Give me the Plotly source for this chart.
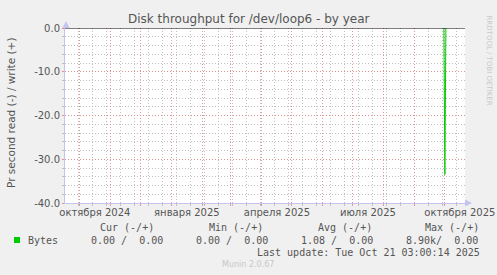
import plotly.graph_objects as go

# ---- data ----
spike_dates = ["2025-09-30 00:00", "2025-10-01 00:00", "2025-10-02 00:00"]
spike_values = [0.0, -33.5, 0.0]

y_tick_vals = [0, -10, -20, -30, -40]
y_tick_text = ["0.0", "-10.0", "-20.0", "-30.0", "-40.0"]

x_label_dates = ["2024-10-16", "2025-01-16", "2025-04-16", "2025-07-16", "2025-10-16"]
x_label_text = ["октября 2024", "января 2025", "апреля 2025", "июля 2025", "октября 2025"]

x_start = "2024-09-16 03:00"
x_end = "2025-10-21 03:00"

legend_headers = ["Cur (-/+)", "Min (-/+)", "Avg (-/+)", "Max (-/+)"]
legend_values = ["0.00 /  0.00", "0.00 /  0.00", "1.08 /  0.00", "8.90k/  0.00"]
series_name = "Bytes"
last_update = "Last update: Tue Oct 21 03:00:14 2025"

# ---- layout geometry ----
W, H = 497, 275
L, R, T, B = 65, 465, 28, 203

def px(x):
    return (x - L) / (R - L)

def py(y):
    return (B - y) / (B - T)

TEXT = "#555555"
RED_GRID = "rgba(225,140,140,0.9)"
GRAY_GRID = "rgba(185,185,185,0.9)"
AXIS = "#c4c4ee"
GREEN = "#00cc00"
DASH = "1px,2px"

fig = go.Figure()
fig.add_trace(go.Scatter(x=spike_dates, y=spike_values, mode="lines",
                         line=dict(color=GREEN, width=1), hoverinfo="skip",
                         showlegend=False))
fig.add_trace(go.Scatter(x=[x_start], y=[0], xaxis="x2", mode="markers",
                         marker=dict(opacity=0), hoverinfo="skip", showlegend=False))
fig.add_trace(go.Scatter(x=[x_start], y=[0], xaxis="x3", mode="markers",
                         marker=dict(opacity=0), hoverinfo="skip", showlegend=False))

fig.update_layout(
    width=W, height=H,
    margin=dict(l=L, r=W - R, t=T, b=H - B, autoexpand=False),
    paper_bgcolor="#f0f0f0", plot_bgcolor="#ffffff",
    showlegend=False,
    font=dict(family="DejaVu Sans", size=10, color=TEXT),
    # biweekly gray grid
    xaxis=dict(type="date", range=[x_start, x_end], dtick=14 * 86400000, tick0="2024-09-30",
               showticklabels=False, showgrid=True, gridcolor=GRAY_GRID, griddash=DASH,
               gridwidth=1, ticks="outside", ticklen=2, tickcolor=GRAY_GRID,
               showline=True, linecolor=AXIS, linewidth=1, zeroline=False,
               automargin=False),
    # labels
    xaxis2=dict(type="date", range=[x_start, x_end], overlaying="x", side="bottom",
                anchor="y", tickmode="array", tickvals=x_label_dates, ticktext=x_label_text,
                showgrid=False, showline=False, ticks="", zeroline=False, automargin=False,
                ticklabelstandoff=2,
                tickfont=dict(family="DejaVu Sans", size=10, color=TEXT)),
    # monthly red grid
    xaxis3=dict(type="date", range=[x_start, x_end], overlaying="x", side="bottom",
                anchor="y", dtick="M1", tick0="2024-10-01", showticklabels=False,
                showgrid=True, gridcolor=RED_GRID, griddash=DASH, gridwidth=1,
                ticks="outside", ticklen=2, tickcolor=RED_GRID, showline=False,
                zeroline=False, automargin=False),
    yaxis=dict(range=[-40, 0], tickmode="array", tickvals=y_tick_vals, ticktext=y_tick_text,
               showgrid=True, gridcolor=RED_GRID, griddash=DASH, gridwidth=1,
               ticks="outside", ticklen=2, tickcolor=RED_GRID, automargin=False,
               showline=True, linecolor=AXIS, linewidth=1, zeroline=False,
               tickfont=dict(family="DejaVu Sans", size=10, color=TEXT),
               minor=dict(dtick=2, tick0=0, showgrid=True, gridcolor=GRAY_GRID,
                          griddash=DASH, gridwidth=1, ticks="outside", ticklen=2,
                          tickcolor=GRAY_GRID)),
)

shapes = [
    dict(type="line", xref="paper", yref="y", x0=0, x1=1, y0=0, y1=0,
         line=dict(color="#000000", width=1), layer="above"),
    dict(type="path", xref="paper", yref="paper",
         path=f"M {px(62.5)} {py(28)} L {px(69.5)} {py(28)} L {px(66)} {py(21)} Z",
         fillcolor=AXIS, line=dict(width=0), layer="above"),
    dict(type="path", xref="paper", yref="paper",
         path=f"M {px(465)} {py(199.5)} L {px(465)} {py(206.5)} L {px(472)} {py(203)} Z",
         fillcolor=AXIS, line=dict(width=0), layer="above"),
    dict(type="rect", xref="paper", yref="paper",
         x0=px(14), x1=px(20), y0=py(237), y1=py(243),
         fillcolor=GREEN, line=dict(width=0)),
]
fig.update_layout(shapes=shapes)

ann = []
def add(text, x, y, size=10, family="DejaVu Sans Mono", color=TEXT, xanchor="left",
        angle=0):
    ann.append(dict(text=text, x=px(x), y=py(y), xref="paper", yref="paper",
                    showarrow=False, xanchor=xanchor, yanchor="middle",
                    textangle=angle, font=dict(family=family, size=size, color=color)))

add("Disk throughput for /dev/loop6 - by year", 249, 19, size=12, family="DejaVu Sans",
    xanchor="center")
add("Pr second read (-) / write (+)", 11, 113, size=10.5, family="DejaVu Sans",
    xanchor="center", angle=-90)
add("RRDTOOL / TOBI OETIKER", 488.5, 60, size=7, family="DejaVu Sans",
    color="#c8c8c8", xanchor="center", angle=90)

header_x = [98, 207, 316, 423]
value_x = [89, 194, 299, 404]
for h, x in zip(legend_headers, header_x):
    add(h, x, 227)
add(series_name, 26, 240)
for v, x in zip(legend_values, value_x):
    add(v, x, 240)
add(last_update, 482, 252, xanchor="right")
add("Munin 2.0.67", 248, 264, size=8, family="DejaVu Sans", color="#c8c8c8",
    xanchor="center")

fig.update_layout(annotations=ann)

fig.write_html("out.html")
